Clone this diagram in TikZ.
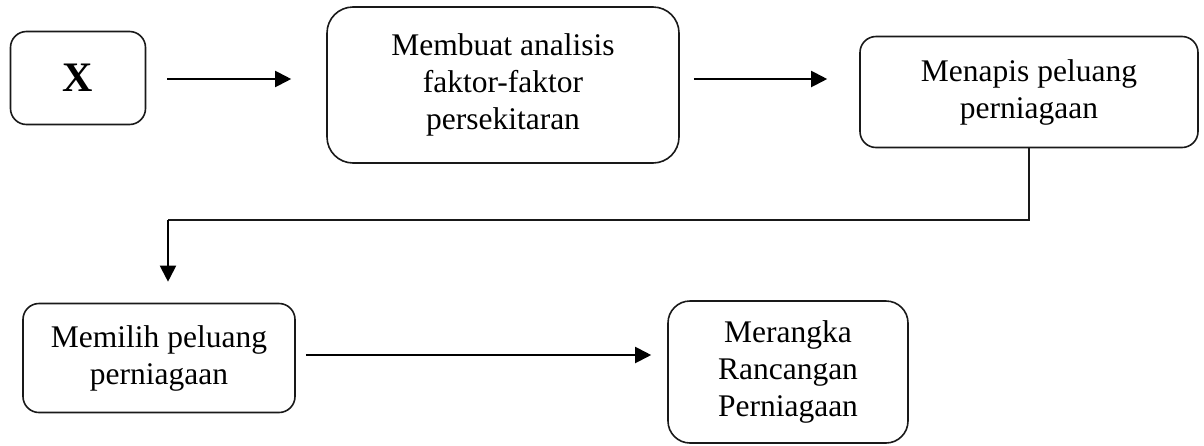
\documentclass[tikz,border=0pt]{standalone}
\usepackage{fontspec}
\setmainfont{Liberation Serif}
\usetikzlibrary{arrows.meta}
\begin{document}
\begin{tikzpicture}[x=1pt,y=-1pt,
  box/.style={draw=black!90, line width=1.6pt, align=center, inner sep=0pt,
    font=\fontsize{31.5}{37}\selectfont},
  arr/.style={draw=black, line width=2pt, -{Triangle[length=16pt,width=16pt]}},
  conn/.style={draw=black!90, line width=1.5pt}]
\useasboundingbox (0,0) rectangle (1204,445);
\node[box, rounded corners=16pt, minimum width=135pt, minimum height=93pt,
  font=\fontsize{42}{48}\selectfont\bfseries] (x) at (78,78) {X};
\node[box, rounded corners=26pt, minimum width=352pt, minimum height=156pt] (m) at (503,85)
  {Membuat analisis\\faktor-faktor\\persekitaran};
\node[box, rounded corners=16pt, minimum width=338pt, minimum height=111pt] (n) at (1029,92)
  {Menapis peluang\\perniagaan};
\node[box, rounded corners=16pt, minimum width=272pt, minimum height=109pt] (p) at (159,358)
  {Memilih peluang\\perniagaan};
\node[box, rounded corners=22pt, minimum width=240pt, minimum height=142pt] (r) at (788,372)
  {Merangka\\Rancangan\\Perniagaan};
\coordinate (y1) at (0,79);
\coordinate (t) at (168,220);
\draw[arr, shorten <=21pt, shorten >=35pt] (x.east |- y1) -- (m.west |- y1);
\draw[arr, shorten <=14pt, shorten >=32pt] (m.east |- y1) -- (n.west |- y1);
\draw[conn] (n.south) |- (t);
\draw[arr, shorten >=21pt] (t) -- (t |- p.north);
\draw[arr, shorten <=10pt, shorten >=16pt] ([yshift=3pt]p.east) -- ([yshift=3pt]p.east -| r.west);
\end{tikzpicture}
\end{document}
